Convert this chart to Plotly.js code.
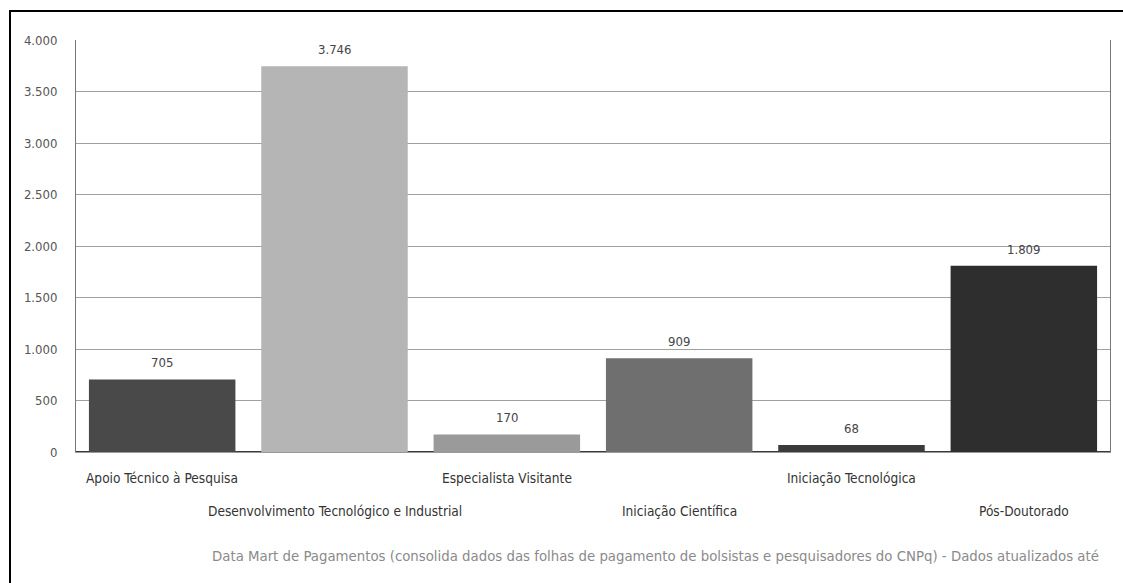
<!DOCTYPE html>
<html>
<head>
<meta charset="utf-8">
<script src="https://cdn.plot.ly/plotly-3.0.1.min.js"></script>
<style>
  html, body { margin: 0; padding: 0; background: #fff; }
  #wrap { position: relative; width: 1123px; height: 583px; overflow: hidden; }
  #chart { position: absolute; left: 0; top: 0; width: 1123px; height: 583px; }
  #frame { position: absolute; left: 9px; top: 10px; right: -4px; bottom: -4px;
           border-left: 2px solid #000; border-top: 2px solid #000; pointer-events: none; }
</style>
</head>
<body>
<div id="wrap">
  <div id="chart"></div>
  <div id="frame"></div>
</div>
<script>
// Bolsas por modalidade
const categories = [
  'Apoio Técnico à Pesquisa',
  'Desenvolvimento Tecnológico e Industrial',
  'Especialista Visitante',
  'Iniciação Científica',
  'Iniciação Tecnológica',
  'Pós-Doutorado'
];
const values = [705, 3746, 170, 909, 68, 1809];
const barColors = ['#494949', '#b5b5b5', '#9a9a9a', '#6f6f6f', '#3a3a3a', '#2e2e2e'];
const yTicks = [0, 500, 1000, 1500, 2000, 2500, 3000, 3500, 4000];
const footer = 'Data Mart de Pagamentos (consolida dados das folhas de pagamento de bolsistas e pesquisadores do CNPq) - Dados atualizados até';

const FONT = '"DejaVu Sans Condensed", "DejaVu Sans", sans-serif';

// thousands separator with a dot (pt-BR)
function fmt(n) {
  return String(n).replace(/\B(?=(\d{3})+(?!\d))/g, '.');
}

const trace = {
  type: 'bar',
  x: categories,
  y: values,
  marker: { color: barColors, line: { width: 0 } },
  hoverinfo: 'x+y'
};

const annotations = [];
// value labels above each bar
categories.forEach((c, i) => {
  annotations.push({
    x: c, y: values[i], xref: 'x', yref: 'y',
    text: fmt(values[i]), showarrow: false,
    yanchor: 'bottom', yshift: 7,
    font: { family: FONT, size: 13, color: '#444' }
  });
});
// category labels, staggered on two rows
categories.forEach((c, i) => {
  annotations.push({
    x: c, y: 0, xref: 'x', yref: 'paper',
    text: c, showarrow: false,
    yanchor: 'top', yshift: i % 2 === 0 ? -16 : -49,
    font: { family: FONT, size: 13.6, color: '#333' }
  });
});

const W = 1123, H = 583, ML = 76, MR = 13, MT = 40, MB = 131;
// source note, placed by pixel and converted to paper units
annotations.push({
  x: (210 - ML) / (W - ML - MR),
  y: 1 - (555 - MT) / (H - MT - MB),
  xref: 'paper', yref: 'paper',
  text: footer, showarrow: false,
  xanchor: 'left', yanchor: 'middle',
  font: { family: FONT, size: 14.8, color: '#8a8a8a' }
});

const layout = {
  width: W, height: H,
  margin: { l: ML, r: MR, t: MT, b: MB, pad: 0 },
  paper_bgcolor: '#fff',
  plot_bgcolor: '#fff',
  separators: ',.',
  showlegend: false,
  bargap: 0.15,
  font: { family: FONT },
  xaxis: {
    type: 'category',
    range: [-0.5, 5.5],
    showticklabels: false,
    showgrid: false,
    zeroline: false,
    showline: true,
    linecolor: '#999',
    linewidth: 1,
    fixedrange: true
  },
  yaxis: {
    range: [0, 4000],
    tickvals: yTicks,
    ticktext: yTicks.map(fmt),
    showgrid: true,
    gridcolor: '#a0a0a0',
    gridwidth: 1,
    zeroline: true,
    zerolinecolor: '#3a3a3a',
    zerolinewidth: 2,
    showline: true,
    linecolor: '#777',
    linewidth: 1,
    mirror: true,
    ticks: '',
    ticklabelstandoff: 15,
    tickfont: { family: FONT, size: 13, color: '#555' },
    fixedrange: true
  },
  annotations: annotations
};

Plotly.newPlot('chart', [trace], layout, { displayModeBar: false, staticPlot: true });
</script>
</body>
</html>
